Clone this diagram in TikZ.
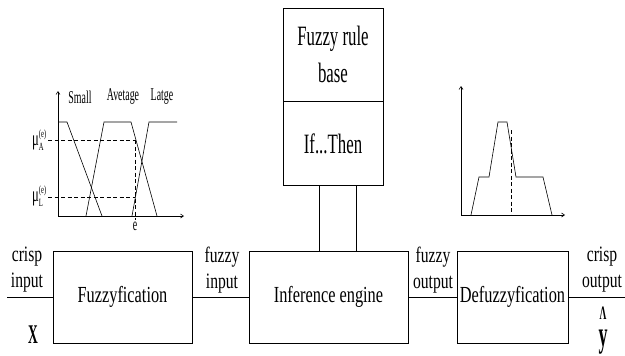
\documentclass[tikz,border=0pt]{standalone}
\usepackage{fontspec}
\setmainfont[FakeStretch=0.71]{Liberation Serif}
\newfontfamily\fontRB[FakeStretch=0.6]{Liberation Serif}
\newfontfamily\fontGL[FakeStretch=0.55]{Liberation Serif}
\newfontfamily\fontXY[FakeStretch=0.5]{Liberation Serif Bold}
\usetikzlibrary{arrows.meta,calc}
\tikzset{
  blk/.style={draw, line width=0.8pt, rectangle, inner sep=0pt, font=\fontsize{23}{26}\selectfont},
  rbox/.style={draw, line width=0.8pt, rectangle, inner sep=0pt, align=center, font=\fontRB\fontsize{28}{37}\selectfont},
  lab/.style={align=center, inner sep=0pt, font=\fontsize{22}{26}\selectfont},
  wire/.style={line width=0.8pt},
  axis/.style={line width=0.6pt, -{Straight Barb[length=3pt,width=4pt]}},
  curve/.style={line width=0.6pt},
  dashln/.style={line width=0.6pt, dash pattern=on 4pt off 2.5pt},
  glab/.style={inner sep=0pt, font=\fontGL\fontsize{18}{20}\selectfont},
  mulab/.style={inner sep=0pt, font=\fontRB\fontsize{21}{22}\selectfont}
}
\newcommand{\scrfs}{\fontRB\fontsize{11}{11}\selectfont}
\begin{document}
\begin{tikzpicture}[x=1pt,y=-1pt]
\useasboundingbox (0,0) rectangle (625,356);
% main blocks
\node[blk, minimum width=139pt, minimum height=92pt] (fuz) at (122.5,297) {Fuzzyfication};
\node[blk, minimum width=159pt, minimum height=92pt] (inf) at (328.5,297) {Inference engine};
\node[blk, minimum width=111pt, minimum height=92pt] (def) at (512.5,297) {Defuzzyfication};
\node[rbox, minimum width=100pt, minimum height=93pt] (rb) at (333,54.5) {Fuzzy rule\\base};
\node[rbox, minimum width=100pt, minimum height=84pt, anchor=north] (ift) at (rb.south) {If...Then};
% wires
\coordinate (xin) at (7,297);
\coordinate (yout) at (625,297);
\draw[wire] (xin) -- (fuz.west);
\draw[wire] (fuz.east) -- (inf.west);
\draw[wire] (inf.east) -- (def.west);
\draw[wire] (def.east) -- (yout);
\draw[wire] ([xshift=71pt]inf.north west) -- ([xshift=71pt]inf.north west |- ift.south);
\draw[wire] ([xshift=108pt]inf.north west) -- ([xshift=108pt]inf.north west |- ift.south);
% labels
\node[lab] (l1) at (27,270) {crisp\\input};
\node[lab] (l2) at (222,270) {fuzzy\\input};
\node[lab] (l3) at (433,270) {fuzzy\\output};
\node[lab] (l4) at (602,270) {crisp\\output};
\node[inner sep=0pt, font=\fontXY\fontsize{27}{27}\selectfont] (xl) at (33,335) {X};
\node[inner sep=0pt, align=center, font=\fontXY\fontsize{36}{36}\selectfont] (yl) at (603,331)
  {{\fontsize{19}{19}\selectfont Λ}\\[-9pt]y};
% left graph
\coordinate (o1) at (58,216);
\draw[axis] (o1) -- (58,91);
\draw[axis] (o1) -- (184,216);
\draw[curve] (58,122) -- (67,122) -- (102,216);
\draw[curve] (86,216) -- (104,122) -- (131,122) -- (157,216);
\draw[curve] (132,216) -- (149,122) -- (177,122);
\draw[dashln] (48,140) -- (135,140);
\draw[dashln] (48,197) -- (135,197);
\draw[dashln] (135,140) -- (135,220);
\node[glab] (ge) at (135,226) {e};
\node[glab] (gs) at (80,97) {Small};
\node[glab] (ga) at (123,97) {Avetage};
\node[glab] (gl) at (162,97) {Latge};
\node[mulab, anchor=east] (mua) at (47,140) {μ$_{\mbox{\scrfs A}}^{\mbox{\scrfs (e)}}$};
\node[mulab, anchor=east] (mul) at (47,196) {μ$_{\mbox{\scrfs L}}^{\mbox{\scrfs (e)}}$};
% right graph
\coordinate (o2) at (461,215);
\draw[axis] (o2) -- (461,86);
\draw[axis] (o2) -- (565,215);
\draw[curve] (471,215) -- (479,177) -- (489,177) -- (498,122) -- (507,122) -- (516,177) -- (543,177) -- (552,215);
\draw[dashln] (511,130) -- (511,215);
\end{tikzpicture}
\end{document}
